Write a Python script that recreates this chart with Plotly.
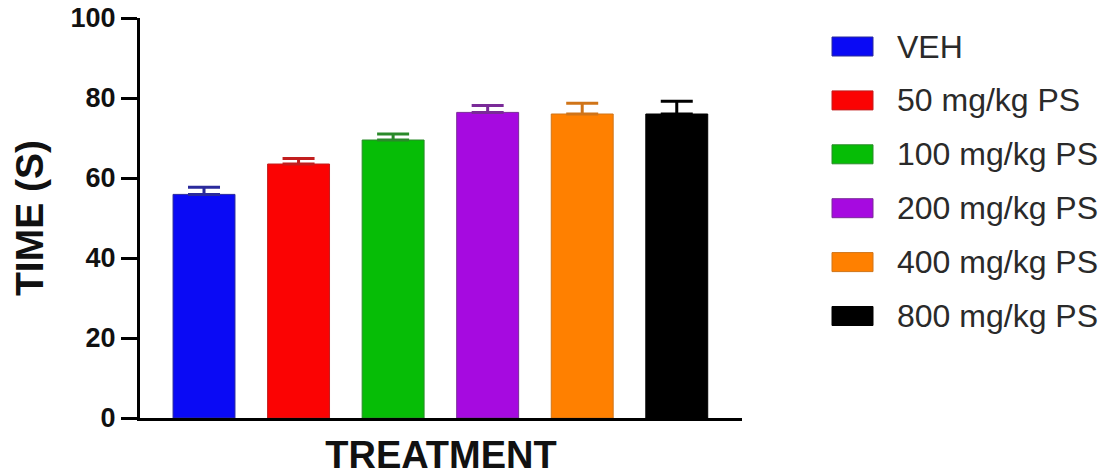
import plotly.graph_objects as go

categories = ["VEH", "50 mg/kg PS", "100 mg/kg PS", "200 mg/kg PS", "400 mg/kg PS", "800 mg/kg PS"]
means = [55.9, 63.5, 69.5, 76.4, 76.0, 76.0]
sem = [1.8, 1.4, 1.5, 1.7, 2.7, 3.2]
bar_colors = ["#0a0af5", "#fb0303", "#06bd06", "#a60ae0", "#ff8000", "#000000"]
err_colors = ["#2a2a9c", "#c21e1e", "#2a8a2a", "#7a2a98", "#d07418", "#000000"]
yticks = [0, 20, 40, 60, 80, 100]

fig = go.Figure()
for i, (cat, m, e) in enumerate(zip(categories, means, sem)):
    fig.add_trace(go.Bar(
        x=[i], y=[m], name=cat, width=0.655,
        marker=dict(color=bar_colors[i], line=dict(color=err_colors[i], width=1)),
        error_y=dict(type="data", array=[e], arrayminus=[0], symmetric=False,
                     color=err_colors[i], thickness=3, width=16),
        showlegend=False,
    ))

# page offset (body margin) compensation: the figure starts 8px in from the window
OFF = 8
L, T, W, H = 140, 18, 602, 400   # plot area in window pixels
def px_x(p):
    return (p - L) / W
def px_y(p):
    return (T + H - p) / H

shapes = []
annotations = []
for i, cat in enumerate(categories):
    cy = 46.5 + 53.9 * i
    shapes.append(dict(type="rect", xref="paper", yref="paper",
                       x0=px_x(832), x1=px_x(873), y0=px_y(cy + 9.5), y1=px_y(cy - 9.5),
                       fillcolor=bar_colors[i], line=dict(color=err_colors[i], width=1)))
    annotations.append(dict(xref="paper", yref="paper", x=px_x(895), y=px_y(cy),
                            text=cat, showarrow=False, xanchor="left", yanchor="middle",
                            font=dict(family="Liberation Sans, Arial", size=32, color="#2a2a2a")))

fig.update_layout(
    width=1109, height=474,
    margin=dict(l=L - OFF, r=1109 - (L - OFF) - W, t=T - OFF, b=474 - (T - OFF) - H),
    paper_bgcolor="white", plot_bgcolor="white",
    shapes=shapes, annotations=annotations,
    showlegend=False,
)
fig.update_xaxes(
    range=[-0.677, 5.69], showticklabels=False, ticks="", showgrid=False, zeroline=False,
    showline=True, linecolor="black", linewidth=3, automargin=False,
    title=dict(text="<b>TREATMENT</b>", standoff=22,
               font=dict(family="Liberation Sans, Arial", size=38, color="#111111")),
)
fig.update_yaxes(
    range=[0, 100], tickvals=yticks, ticks="outside", ticklen=16, tickwidth=3, tickcolor="black",
    showgrid=False, zeroline=False, showline=True, linecolor="black", linewidth=3, automargin=False,
    ticklabeloverflow="allow",
    tickfont=dict(family="Liberation Sans, Arial", size=27, color="#111111", weight="bold"),
    title=dict(text="<b>TIME (S)</b>", standoff=17,
               font=dict(family="Liberation Sans, Arial", size=39, color="#111111")),
)

fig.write_html("out.html")
